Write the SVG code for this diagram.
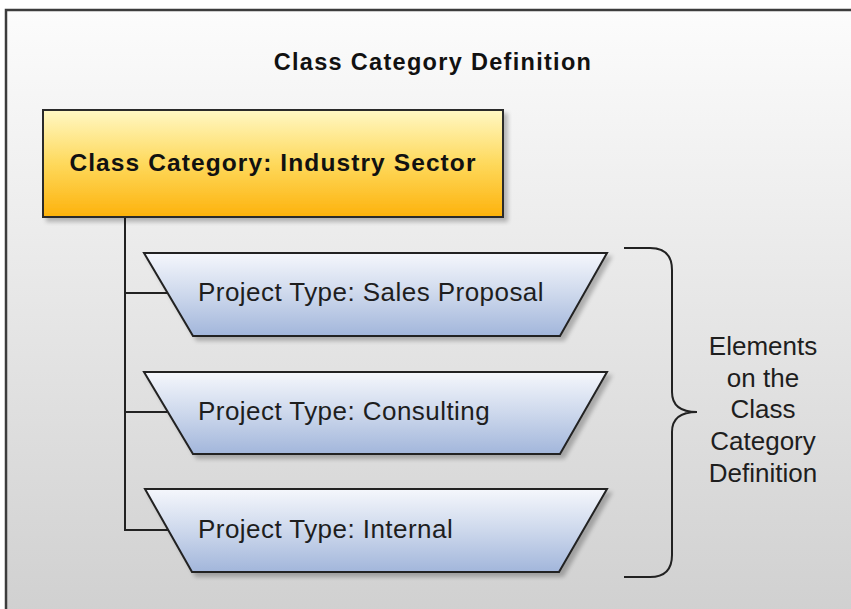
<svg xmlns="http://www.w3.org/2000/svg" width="851" height="609" viewBox="0 0 851 609">
<defs>
<linearGradient id="bg" x1="0" y1="0" x2="0" y2="1">
<stop offset="0" stop-color="#fcfcfc"/>
<stop offset="1" stop-color="#cfcfcf"/>
</linearGradient>
<linearGradient id="gold" x1="0" y1="0" x2="0" y2="1">
<stop offset="0" stop-color="#fff8c4"/>
<stop offset="0.5" stop-color="#fed95c"/>
<stop offset="1" stop-color="#fdb20c"/>
</linearGradient>
<linearGradient id="blue" x1="0" y1="0" x2="0" y2="1">
<stop offset="0" stop-color="#f5f7fc"/>
<stop offset="0.5" stop-color="#cdd8ec"/>
<stop offset="1" stop-color="#a2b6db"/>
</linearGradient>
<filter id="sh" x="-10%" y="-10%" width="125%" height="135%">
<feGaussianBlur in="SourceAlpha" stdDeviation="2"/>
<feOffset dx="4" dy="4" result="b"/>
<feComponentTransfer><feFuncA type="linear" slope="0.25"/></feComponentTransfer>
<feMerge><feMergeNode/><feMergeNode in="SourceGraphic"/></feMerge>
</filter>
</defs>
<style>
.frame{fill:url(#bg);stroke:#3c3c3c;stroke-width:2.5}
.box{fill:url(#gold);stroke:#2a2a2a;stroke-width:2}
.trap{fill:url(#blue);stroke:#222;stroke-width:2}
.conn{fill:none;stroke:#222;stroke-width:2}
.bold{font-family:"Liberation Sans",Arial,sans-serif;font-weight:bold;fill:#111}
.reg{font-family:"Liberation Sans",Arial,sans-serif;font-size:26px;fill:#1e1e1e}
.pt{letter-spacing:0.45px}
</style>
<rect class="frame" x="6" y="10" width="860" height="620"/>
<text class="bold" x="433" y="70" font-size="23.5" text-anchor="middle" letter-spacing="1.3">Class Category Definition</text>
<g id="connectors">
<path class="conn" d="M125,217 V530 H168 M125,293 H167 M125,412 H167"/>
</g>
<g id="industry-sector">
<rect class="box" x="43" y="110" width="460" height="107" filter="url(#sh)"/>
<text class="bold" x="273" y="171" font-size="24.5" text-anchor="middle" letter-spacing="1.1">Class Category: Industry Sector</text>
</g>
<g id="sales-proposal">
<polygon class="trap" points="144,253 607,253 560,336 193,336" filter="url(#sh)"/>
<text class="reg pt" x="198" y="301">Project Type: Sales Proposal</text>
</g>
<g id="consulting">
<polygon class="trap" points="144,372 607,372 560,454 193,454" filter="url(#sh)"/>
<text class="reg pt" x="198" y="420">Project Type: Consulting</text>
</g>
<g id="internal">
<polygon class="trap" points="145,489 607,489 559,572 192,572" filter="url(#sh)"/>
<text class="reg pt" x="198" y="538">Project Type: Internal</text>
</g>
<g id="brace">
<path class="conn" d="M624,248 H650 Q672,248 672,270 V392 Q672,412 697,412 Q672,412 672,432 V555 Q672,577 650,577 H624" stroke-width="2.5"/>
<text class="reg" x="763" text-anchor="middle"><tspan x="763" y="355">Elements</tspan><tspan x="763" y="387">on the</tspan><tspan x="763" y="418">Class</tspan><tspan x="763" y="450">Category</tspan><tspan x="763" y="482">Definition</tspan></text>
</g>
</svg>
